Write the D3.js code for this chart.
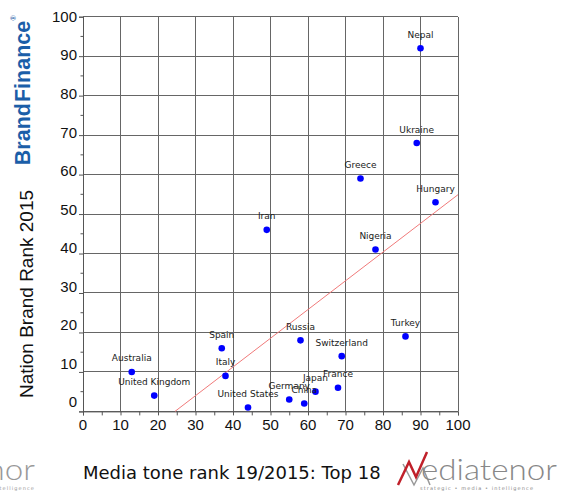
<!DOCTYPE html>
<html>
<head>
<meta charset="utf-8">
<script src="https://cdn.jsdelivr.net/npm/d3@7"></script>
<style>
  html, body { margin: 0; padding: 0; background: #fff; }
  svg { display: block; }
</style>
</head>
<body>
<div id="chart"></div>
<script>
// Media tone rank (x) vs Nation Brand rank (y), 18 countries
const countries = ['Nepal', 'Ukraine', 'Greece', 'Hungary', 'Nigeria', 'Iran', 'Russia', 'Spain',
  'Switzerland', 'Turkey', 'Australia', 'Italy', 'United Kingdom', 'Japan', 'France', 'Germany',
  'China', 'United States'];
const mediaRank = [90, 89, 74, 94, 78, 49, 58, 37, 69, 86, 13, 38, 19, 62, 68, 55, 59, 44];
const brandRank = [92, 68, 59, 53, 41, 46, 18, 16, 14, 19, 10, 9, 4, 5, 6, 3, 2, 1];
const majorTicks = [0, 10, 20, 30, 40, 50, 60, 70, 80, 90, 100];
const minorTicks = [5, 15, 25, 35, 45, 55, 65, 75, 85, 95];

const W = 561, H = 491;
const svg = d3.select('#chart').append('svg')
  .attr('width', W)
  .attr('height', H);

const x = d3.scaleLinear().domain([0, 100]).range([83, 458]);
const y = d3.scaleLinear().domain([0, 100]).range([411.4, 16.7]);
// tick labels on the original sit slightly compressed against the grid
const yLab = d3.scaleLinear().domain([0, 100]).range([402, 16.7]);

const data = countries.map((c, i) => ({ name: c, mx: mediaRank[i], br: brandRank[i] }));

// grid
const grid = svg.append('g').attr('stroke', '#666').attr('stroke-width', 1).attr('shape-rendering', 'crispEdges');
grid.selectAll('line.v')
  .data(majorTicks)
  .enter().append('line')
  .attr('x1', d => x(d)).attr('x2', d => x(d))
  .attr('y1', y(0)).attr('y2', y(100));
grid.selectAll('line.h')
  .data(majorTicks)
  .enter().append('line')
  .attr('x1', x(0)).attr('x2', x(100))
  .attr('y1', d => y(d)).attr('y2', d => y(d));

// axes
const xAxis = svg.append('g')
  .attr('transform', `translate(0,${y(0)})`)
  .call(d3.axisBottom(x).tickValues(majorTicks.concat(minorTicks)).tickSize(4).tickFormat(''));
const yAxis = svg.append('g')
  .attr('transform', `translate(${x(0)},0)`)
  .call(d3.axisLeft(y).tickValues(majorTicks).tickSize(4).tickFormat(''));
yAxis.selectAll('.minor')
  .data(minorTicks)
  .enter().append('line')
  .attr('class', 'minor')
  .attr('x1', -2.5).attr('x2', 0)
  .attr('y1', d => y(d)).attr('y2', d => y(d))
  .attr('stroke', '#555');
[xAxis, yAxis].forEach(a => {
  a.select('.domain').attr('stroke', '#555');
  a.selectAll('.tick line').attr('stroke', '#555');
});

svg.append('g')
  .selectAll('text')
  .data(majorTicks)
  .enter().append('text')
  .attr('x', d => x(d))
  .attr('y', 430)
  .attr('text-anchor', 'middle')
  .attr('font-family', 'Liberation Sans, Arial, sans-serif')
  .attr('font-size', 15)
  .attr('fill', '#111')
  .text(d => d);

svg.append('g')
  .selectAll('text')
  .data(majorTicks)
  .enter().append('text')
  .attr('x', 77)
  .attr('y', d => yLab(d))
  .attr('dy', '0.35em')
  .attr('text-anchor', 'end')
  .attr('font-family', 'Liberation Sans, Arial, sans-serif')
  .attr('font-size', 15)
  .attr('fill', '#111')
  .text(d => d);

// least-squares trend line, drawn from y = 0 to the right edge
const mx = d3.mean(mediaRank), my = d3.mean(brandRank);
const slope = d3.sum(data, d => (d.mx - mx) * (d.br - my)) / d3.sum(data, d => (d.mx - mx) ** 2);
const icpt = my - slope * mx;
const xStart = -icpt / slope;
svg.append('line')
  .attr('x1', x(xStart)).attr('y1', y(0))
  .attr('x2', x(100)).attr('y2', y(slope * 100 + icpt))
  .attr('stroke', '#f07a7a')
  .attr('stroke-width', 1);

// points + labels
svg.append('g')
  .selectAll('circle')
  .data(data)
  .enter().append('circle')
  .attr('cx', d => x(d.mx))
  .attr('cy', d => y(d.br))
  .attr('r', 3.3)
  .attr('fill', '#0000ff');

svg.append('g')
  .selectAll('text')
  .data(data)
  .enter().append('text')
  .attr('x', d => x(d.mx))
  .attr('y', d => y(d.br) - 10.5)
  .attr('text-anchor', 'middle')
  .attr('font-family', 'DejaVu Sans, Verdana, sans-serif')
  .attr('font-size', 9)
  .attr('fill', '#1a1a1a')
  .text(d => d.name);

// axis titles
svg.append('text')
  .attr('transform', 'translate(33,294) rotate(-90)')
  .attr('text-anchor', 'middle')
  .attr('font-family', 'Liberation Sans, Arial, sans-serif')
  .attr('font-size', 19)
  .attr('fill', '#111')
  .text('Nation Brand Rank 2015');

const bf = svg.append('text')
  .attr('transform', 'translate(30,93) rotate(-90)')
  .attr('text-anchor', 'middle')
  .attr('font-family', 'Liberation Sans, Arial, sans-serif')
  .attr('font-size', 21.5)
  .attr('fill', '#1b5ea8');
bf.append('tspan').attr('font-weight', 700).text('Brand');
bf.append('tspan').attr('font-weight', 700).attr('dx', 1).text('Finance');
svg.append('text')
  .attr('transform', 'translate(16,18) rotate(-90)')
  .attr('text-anchor', 'middle')
  .attr('font-family', 'Liberation Sans, Arial, sans-serif')
  .attr('font-size', 7)
  .attr('fill', '#1b5ea8')
  .text('®');

svg.append('text')
  .attr('x', 83)
  .attr('y', 479)
  .attr('font-family', 'DejaVu Sans, Verdana, sans-serif')
  .attr('font-size', 18)
  .attr('fill', '#111')
  .text('Media tone rank 19/2015: Top 18');

// Mediatenor logos
const logo = svg.append('g');
logo.append('polyline')
  .attr('points', '403,464 414,485 423,468 430,485')
  .attr('fill', 'none').attr('stroke', '#999').attr('stroke-width', 1.5);
logo.append('polyline')
  .attr('points', '398,485 409,462 416,477 427,452')
  .attr('fill', 'none').attr('stroke', '#c0202a').attr('stroke-width', 2.5);
logo.append('text')
  .attr('x', 421).attr('y', 480)
  .attr('font-family', 'Lato, Noto Sans, sans-serif')
  .attr('font-weight', 300)
  .attr('font-size', 30)
  .attr('textLength', 136)
  .attr('lengthAdjust', 'spacingAndGlyphs')
  .attr('fill', '#888')
  .text('ediatenor');
logo.append('text')
  .attr('x', 420).attr('y', 490)
  .attr('font-family', 'DejaVu Sans, sans-serif')
  .attr('font-size', 5)
  .attr('letter-spacing', 1.1)
  .attr('fill', '#888')
  .text('strategic • media • intelligence');
logo.append('text')
  .attr('x', -101).attr('y', 480)
  .attr('font-family', 'Lato, Noto Sans, sans-serif')
  .attr('font-weight', 300)
  .attr('font-size', 30)
  .attr('textLength', 136)
  .attr('lengthAdjust', 'spacingAndGlyphs')
  .attr('fill', '#999')
  .text('ediatenor');
logo.append('text')
  .attr('x', 35).attr('y', 490)
  .attr('text-anchor', 'end')
  .attr('font-family', 'DejaVu Sans, sans-serif')
  .attr('font-size', 5)
  .attr('letter-spacing', 1.1)
  .attr('fill', '#999')
  .text('intelligence');
</script>
</body>
</html>
